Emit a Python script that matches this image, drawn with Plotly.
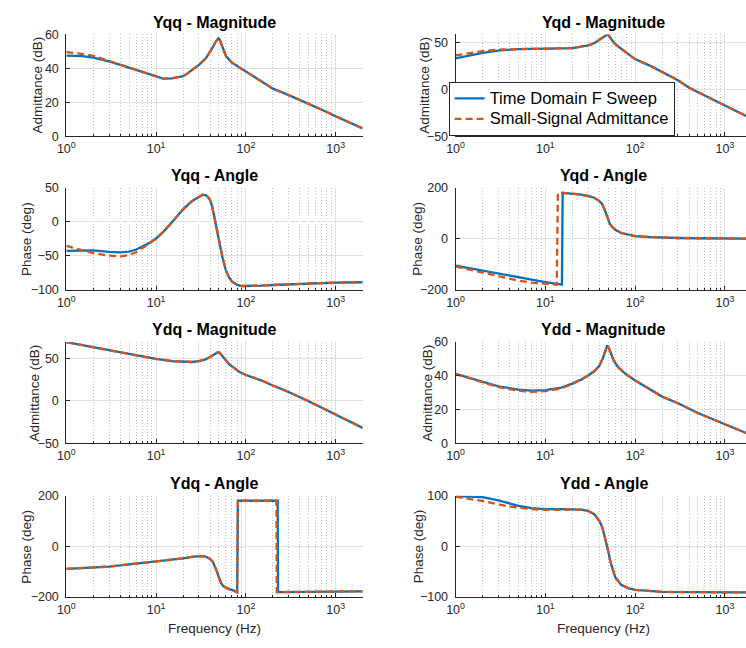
import plotly.graph_objects as go

# ---------------- data ----------------
# Yqq magnitude (dB)
yqq_mag_f = [1, 1.5, 2, 3, 5, 7, 10, 12, 15, 18, 20, 22, 24, 27, 30, 36, 40, 43, 46, 48, 49.5, 51, 53,
             56, 60, 70, 85, 100, 140, 200, 300, 460, 700, 1000, 1400, 2000]
yqq_mag_td = [47.5, 47.2, 46.3, 44.1, 40.4, 38, 35.2, 33.9, 34.1, 34.8, 35.4, 36.7, 38.2, 40.2, 42, 46, 49.5, 52.6, 55.6, 57.2, 57.7, 57, 54.8,
              51, 47.2, 43.3, 40.5, 38, 33, 28, 24.2, 20, 15.6, 11.7, 8.3, 4.6]
yqq_mag_ss = [49.5, 48.5, 47.3, 44.3, 40.6, 38, 35.2, 33.9, 34.1, 34.8, 35.4, 36.7, 38.2, 40.2, 42, 46, 49.5, 52.6, 55.6, 57.2, 57.7, 57, 54.8,
              51, 47.2, 43.3, 40.5, 38, 33, 28, 24.2, 20, 15.6, 11.7, 8.3, 4.6]

# Yqq angle (deg)
yqq_ang_f = [1, 1.5, 2, 3, 4, 5, 6, 7, 8.5, 10, 12, 15, 18, 20, 25, 30, 33, 36, 38, 40,
             42, 45, 48, 50, 53, 55, 60, 65, 70, 80, 90, 100, 150, 200, 300, 500, 1000, 2000]
yqq_ang_td = [-43, -42.7, -42.2, -44.5, -45.2, -44, -41, -36.7, -31, -24.8, -15.2, -1, 11, 18, 30, 37, 39.5, 38.5, 35.7, 31.4,
              23, 3.8, -15, -27, -43.8, -53, -72, -82, -88, -93, -94.5, -94.5, -94, -93, -92, -91, -89.5, -89]
yqq_ang_ss = [-35.7, -42.4, -46.2, -50, -51, -49, -45, -39, -32, -24.8, -15.2, -1, 11, 18, 30, 37, 39.5, 38.5, 35.7, 31.4,
              23, 3.8, -15, -27, -43.8, -53, -72, -82, -88, -93, -94.5, -94.5, -94, -93, -92, -91, -89.5, -89]

# Yqd magnitude (dB)
yqd_mag_f = [1, 1.5, 2, 3, 5, 7, 10, 15, 20, 25, 30, 35, 40, 44, 47, 49, 51, 54, 58, 65,
             75, 100, 150, 200, 300, 400, 600, 1000, 1300, 1720]
yqd_mag_td = [32.7, 36, 38.6, 41, 42.7, 43, 43, 43.2, 43.7, 45.2, 46.5, 49, 52.3, 55, 57, 58.1, 57, 53.3, 49.5, 45.3,
              40.8, 32, 24.5, 18.5, 9.5, 1.5, -7, -17.5, -22.5, -28.5]
yqd_mag_ss = [36, 38.8, 40.5, 42, 42.8, 43, 43, 43.2, 43.7, 45.2, 46.5, 49, 52.3, 55, 57, 58.1, 57, 53.3, 49.5, 45.3,
              40.8, 32, 24.5, 18.5, 9.5, 1.5, -7, -17.5, -22.5, -28.5]

# Yqd angle (deg)
yqd_ang_f_td = [1, 2, 3, 5, 7, 10, 13, 15.3, 15.6, 20, 25, 30, 35, 40, 43, 46, 48, 50, 52, 55,
                60, 70, 85, 100, 150, 200, 300, 500, 1000, 1720]
yqd_ang_td = [-106, -125, -138, -153, -162, -170, -176, -180, 179.5, 176, 172, 167, 160, 147, 134.6, 111.5, 93.6, 77, 60, 47,
              34.6, 22, 15, 10, 6, 4, 2.5, 1.5, 0.5, 0]
yqd_ang_f_ss = [1, 2, 3, 5, 7, 10, 13.4, 13.8, 15.6, 20, 25, 30, 35, 40, 43, 46, 48, 50, 52, 55,
                60, 70, 85, 100, 150, 200, 300, 500, 1000, 1720]
yqd_ang_ss = [-109, -133, -148, -164, -172, -177, -180, 179.5, 179, 176, 172, 167, 160, 147, 134.6, 111.5, 93.6, 77, 60, 47,
              34.6, 22, 15, 10, 6, 4, 2.5, 1.5, 0.5, 0]

# Ydq magnitude (dB)
ydq_mag_f = [1, 2, 3, 5, 7, 10, 15, 20, 25, 30, 35, 40, 44, 47, 49, 51, 54, 58, 65, 75,
             86, 100, 150, 200, 300, 500, 1000, 1500, 2000]
ydq_mag_td = [68.9, 62.8, 59.8, 55.6, 52.5, 49.2, 46.7, 45.6, 45.6, 46.7, 48.5, 51.5, 54.5, 56.5, 57.2, 56.5, 53.5, 49.5, 43, 38.3,
              33.5, 30.3, 23.8, 18, 10.3, -0.5, -16.5, -25.3, -31.8]
ydq_mag_ss = [68.9, 62.8, 59.8, 55.6, 52.5, 49.2, 46.7, 45.6, 45.6, 46.7, 48.5, 51.5, 54.5, 56.5, 57.2, 56.5, 53.5, 49.5, 43, 38.3,
              33.5, 30.3, 23.8, 18, 10.3, -0.5, -16.5, -25.3, -31.8]

# Ydq angle (deg)
ydq_ang_f_td = [1, 2, 3, 5, 10, 15, 20, 25, 30, 35, 40, 43, 46, 48, 50, 53, 56, 62, 72, 80,
                81.5, 100, 150, 200, 226, 228, 300, 500, 1000, 2000]
ydq_ang_td = [-89, -84, -80, -71, -60.6, -53, -47.7, -42, -38.7, -39.5, -50, -62, -85, -103, -123, -145, -157, -166, -174, -181,
              180, 180, 180, 180, 180, -181, -180, -179.5, -178.5, -177.5]
ydq_ang_f_ss = [1, 2, 3, 5, 10, 15, 20, 25, 30, 35, 40, 43, 46, 48, 50, 53, 56, 62, 72, 80,
                81.5, 100, 150, 200, 219, 221, 300, 500, 1000, 2000]
ydq_ang_ss = [-89, -84, -80, -71, -60.6, -53, -47.7, -42, -38.7, -39.5, -50, -62, -85, -103, -123, -145, -157, -166, -174, -181,
              180, 180, 180, 180, 180, -181, -180, -179.5, -178.5, -177.5]

# Ydd magnitude (dB)
ydd_mag_f = [1, 2, 3, 5, 7, 10, 15, 20, 25, 30, 35, 40, 44, 47, 49, 51, 54, 58, 65, 80,
             100, 150, 200, 300, 500, 1000, 1720]
ydd_mag_td = [41.2, 36.3, 33.8, 31.9, 31.2, 31.5, 33, 35.4, 37.7, 40.2, 42.7, 46, 50.8, 55.6, 58, 56.5, 53, 48.8, 45, 40.8,
              37.3, 31.9, 27.7, 23.8, 18, 11.3, 6.2]
ydd_mag_ss = [41.2, 36, 33.3, 31.2, 30.5, 30.9, 32.6, 35.2, 37.7, 40.2, 42.7, 46, 50.8, 55.6, 58, 56.5, 53, 48.8, 45, 40.8,
              37.3, 31.9, 27.7, 23.8, 18, 11.3, 6.2]

# Ydd angle (deg)
ydd_ang_f = [1, 2, 3, 4, 5, 7, 10, 15, 20, 25, 30, 35, 40, 43, 45, 47, 49, 51, 53, 56,
             60, 70, 85, 100, 150, 200, 500, 1000, 1720]
ydd_ang_td = [99, 97.4, 91, 84, 80, 75.3, 73.4, 73.4, 73.4, 72.5, 70, 63.6, 50, 38, 25, 12, 0, -15, -30, -46,
              -61, -76, -83, -86, -88.5, -90, -90.5, -91, -91]
ydd_ang_ss = [98, 89.6, 83, 78.5, 76.6, 73.4, 72, 72.3, 72.8, 72.5, 70, 63.6, 50, 38, 25, 12, 0, -15, -30, -46,
              -61, -76, -83, -86, -88.5, -90, -90.5, -91, -91]

titles = ["Yqq - Magnitude", "Yqd - Magnitude", "Yqq - Angle", "Yqd - Angle",
          "Ydq - Magnitude", "Ydd - Magnitude", "Ydq - Angle", "Ydd - Angle"]
series_names = ["Time Domain F Sweep", "Small-Signal Admittance"]
x_tick_vals = [1, 10, 100, 1000]
x_tick_text = ["10<sup>0</sup>", "10<sup>1</sup>", "10<sup>2</sup>", "10<sup>3</sup>"]

# ---------------- layout geometry ----------------
W, H = 746, 648
BLUE = "#0072BD"
RED = "#D95319"
TXT = "#262626"
FONT = "Liberation Sans, Arial, sans-serif"

col_px = [(58, 358), (452, 746)]
DEC_PX = 300 / 3.301
col_range = [[0, 3.301], [0, (746 - 452) / DEC_PX]]
row_px = [(28, 132), (184.5, 289), (342.5, 446), (499.5, 603)]

panels = [
    (0, 0, yqq_mag_f, yqq_mag_td, yqq_mag_f, yqq_mag_ss, [0, 60], [0, 20, 40, 60], "Admittance (dB)"),
    (0, 1, yqd_mag_f, yqd_mag_td, yqd_mag_f, yqd_mag_ss, [-50, 58.3], [-50, 0, 50], "Admittance (dB)"),
    (1, 0, yqq_ang_f, yqq_ang_td, yqq_ang_f, yqq_ang_ss, [-100, 50], [-100, -50, 0, 50], "Phase (deg)"),
    (1, 1, yqd_ang_f_td, yqd_ang_td, yqd_ang_f_ss, yqd_ang_ss, [-200, 200], [-200, 0, 200], "Phase (deg)"),
    (2, 0, ydq_mag_f, ydq_mag_td, ydq_mag_f, ydq_mag_ss, [-50, 69], [-50, 0, 50], "Admittance (dB)"),
    (2, 1, ydd_mag_f, ydd_mag_td, ydd_mag_f, ydd_mag_ss, [0, 60], [0, 20, 40, 60], "Admittance (dB)"),
    (3, 0, ydq_ang_f_td, ydq_ang_td, ydq_ang_f_ss, ydq_ang_ss, [-200, 200], [-200, 0, 200], "Phase (deg)"),
    (3, 1, ydd_ang_f, ydd_ang_td, ydd_ang_f, ydd_ang_ss, [-100, 100], [-100, 0, 100], "Phase (deg)"),
]
ylabel_xpx = [28.5, 420.5, 17.5, 414, 26, 424, 17.5, 414]

minor_vals = [m * 10 ** d for d in range(4) for m in range(2, 10)]


def px2x(p):
    return p / W


def px2y(p):
    return 1 - p / H


fig = go.Figure()
layout = dict(
    width=W, height=H, margin=dict(l=0, r=0, t=0, b=0),
    paper_bgcolor="white", plot_bgcolor="white",
    font=dict(family=FONT, color=TXT, size=12),
    showlegend=True,
    legend=dict(x=px2x(445), y=px2y(132), xanchor="left", yanchor="bottom",
                bgcolor="white", bordercolor=TXT, borderwidth=1,
                font=dict(family=FONT, size=13.5, color="black"), tracegroupgap=0),
)
annotations = []

for i, (r, c, f_td, td, f_ss, ss, yr, yt, ylab) in enumerate(panels):
    k = i + 1
    xs = "x" if k == 1 else f"x{k}"
    ys = "y" if k == 1 else f"y{k}"
    xa = "xaxis" if k == 1 else f"xaxis{k}"
    ya = "yaxis" if k == 1 else f"yaxis{k}"
    x0, x1 = col_px[c]
    y0, y1 = row_px[r]
    layout[xa] = dict(
        type="log", range=col_range[c], domain=[px2x(x0), min(1.0, px2x(x1))], anchor=ys,
        tickmode="array", tickvals=x_tick_vals, ticktext=x_tick_text,
        ticks="inside", ticklen=4, tickcolor=TXT, tickwidth=1,
        showgrid=True, gridcolor="#e0e0e0", gridwidth=1,
        minor=dict(tickmode="array", tickvals=minor_vals, ticks="inside", ticklen=2,
                   tickcolor=TXT, showgrid=True, gridcolor="#c2c2c2", griddash="1px,2px", gridwidth=1),
        showline=True, linecolor=TXT, linewidth=1, zeroline=False,
        tickfont=dict(family=FONT, size=12.5, color=TXT), ticklabelstandoff=1,
        fixedrange=True,
    )
    layout[ya] = dict(
        range=yr, domain=[px2y(y1), px2y(y0)], anchor=xs,
        tickmode="array", tickvals=yt,
        ticks="inside", ticklen=4, tickcolor=TXT, tickwidth=1,
        showgrid=True, gridcolor="#e0e0e0", gridwidth=1,
        showline=True, linecolor=TXT, linewidth=1, zeroline=False,
        tickfont=dict(family=FONT, size=12.5, color=TXT), ticklabelstandoff=4,
        fixedrange=True,
    )
    fig.add_trace(go.Scatter(x=f_td, y=td, mode="lines", xaxis=xs, yaxis=ys,
                             line=dict(color=BLUE, width=2.3),
                             name='<span style="font-size:16.5px">' + series_names[0] + "</span>",
                             showlegend=(k == 2), legendrank=1))
    fig.add_trace(go.Scatter(x=f_ss, y=ss, mode="lines", xaxis=xs, yaxis=ys,
                             line=dict(color=RED, width=2.3, dash="7px,4px"),
                             name='<span style="font-size:16.5px">' + series_names[1] + "</span>",
                             showlegend=(k == 2), legendrank=2))
    cx = x0 + 150
    annotations.append(dict(text="<b>" + titles[i] + "</b>", xref="paper", yref="paper",
                            x=px2x(cx), y=px2y(y0 - 12.5), xanchor="center", yanchor="middle",
                            showarrow=False, font=dict(family=FONT, size=16, color="black")))
    annotations.append(dict(text=ylab, xref="paper", yref="paper", textangle=-90,
                            x=px2x(ylabel_xpx[i]), y=px2y((y0 + y1) / 2), xanchor="center", yanchor="middle",
                            showarrow=False, font=dict(family=FONT, size=13.5, color=TXT)))
    if r == 3:
        annotations.append(dict(text="Frequency (Hz)", xref="paper", yref="paper",
                                x=px2x(cx), y=px2y(635.5), xanchor="center", yanchor="middle",
                                showarrow=False, font=dict(family=FONT, size=13.5, color=TXT)))

layout["annotations"] = annotations
fig.update_layout(**layout)
fig.write_html("out.html")
